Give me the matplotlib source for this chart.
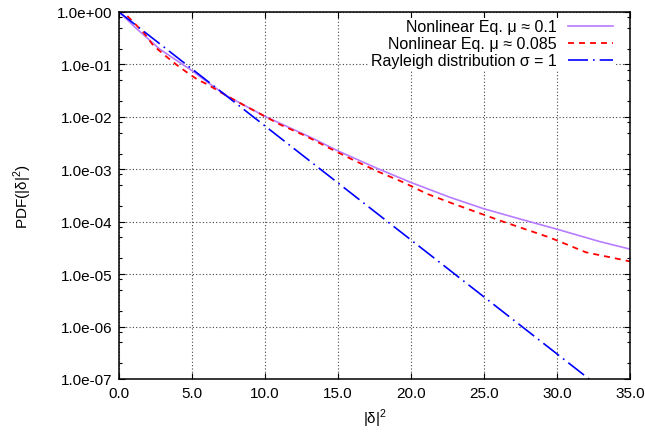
import matplotlib
matplotlib.use('Agg')
import matplotlib.pyplot as plt
from matplotlib.ticker import LogLocator, FuncFormatter, MultipleLocator, NullFormatter

plt.rcParams['font.family'] = ['Liberation Sans', 'DejaVu Sans']
plt.rcParams['mathtext.fontset'] = 'custom'
plt.rcParams['mathtext.rm'] = 'Liberation Sans'

# |delta|^2 values and PDF
x_mu01 = [0.0, 0.5, 1.1, 2.8, 5.0, 6.2, 7.4, 10.0, 13.1, 15.0, 17.65, 20.0, 22.7, 24.95, 27.5, 30.0, 32.9, 35.0]
pdf_mu01 = [1.0, 0.74, 0.51, 0.195, 0.076, 0.043, 0.025, 0.0102, 0.0041, 0.00224, 0.00105, 0.00056,
            0.00029, 0.000178, 0.000112, 7.2e-5, 4.2e-5, 3.0e-5]

x_mu0085 = [0.0, 0.5, 1.7, 2.35, 3.15, 3.95, 4.7, 5.4, 6.1, 6.9, 8.5, 10.0, 11.0, 12.8, 14.45, 16.05,
            17.8, 19.5, 21.1, 22.9, 26.1, 29.5, 32.0, 34.55, 35.0]
pdf_mu0085 = [1.15, 0.88, 0.40, 0.23, 0.148, 0.098, 0.069, 0.051, 0.041, 0.030, 0.017, 0.0102, 0.0072,
              0.0043, 0.0025, 0.0015, 0.00089, 0.00056, 0.00034, 0.00022, 0.000105, 5.0e-5, 2.6e-5,
              1.86e-5, 1.75e-5]

x_rayleigh = [0.0, 32.2]
pdf_rayleigh = [1.0, 1.0e-7]

labels = ['Nonlinear Eq. μ ≈ 0.1', 'Nonlinear Eq. μ ≈ 0.085', 'Rayleigh distribution σ = 1']

fig = plt.figure(figsize=(6.45, 4.35), dpi=100)
ax = fig.add_axes([119 / 645, 55 / 435, 511 / 645, 367 / 435])

ax.plot(x_mu01, pdf_mu01, color='#b87cff', lw=1.2, label=labels[0])
ax.plot(x_mu0085, pdf_mu0085, color='#ff0000', lw=1.3, ls=(0, (3.3, 2.8)), label=labels[1])
ax.plot(x_rayleigh, pdf_rayleigh, color='#0000ff', lw=1.2, ls=(0, (12, 3, 1, 3)), label=labels[2])

ax.set_yscale('log')
ax.set_xlim(0, 35)
ax.set_ylim(1e-7, 1)
ax.xaxis.set_major_locator(MultipleLocator(5))
ax.xaxis.set_major_formatter(FuncFormatter(lambda v, p: '%.1f' % v))
ax.yaxis.set_major_locator(LogLocator(base=10, numticks=20))
ax.yaxis.set_minor_locator(LogLocator(base=10, subs=[2, 5, 8], numticks=20))
ax.yaxis.set_major_formatter(FuncFormatter(lambda v, p: '%.1e' % v))
ax.yaxis.set_minor_formatter(NullFormatter())

ax.tick_params(which='both', direction='in', top=True, right=True, labelsize=11, colors='black')
ax.tick_params(which='major', length=4.5, width=0.8, pad=5)
ax.tick_params(which='minor', length=2.5, width=0.8)
for s in ax.spines.values():
    s.set_linewidth(1.1)

ax.grid(True, which='major', color='#444444', ls=(0, (1, 2)), lw=0.8)

ax.set_xlabel('|δ|$^{2}$', fontsize=11, labelpad=5)
ax.set_ylabel('PDF(|δ|$^{2}$)', fontsize=11, labelpad=16)

leg = ax.legend(loc='upper right', bbox_to_anchor=(0.969, 0.984), markerfirst=False, fontsize=11.5,
                handlelength=2.8, handletextpad=0.7, labelspacing=0.12, borderpad=0.1, borderaxespad=0,
                frameon=True, fancybox=False, framealpha=1, facecolor='white', edgecolor='none')

fig.savefig('out.png', dpi=100)
